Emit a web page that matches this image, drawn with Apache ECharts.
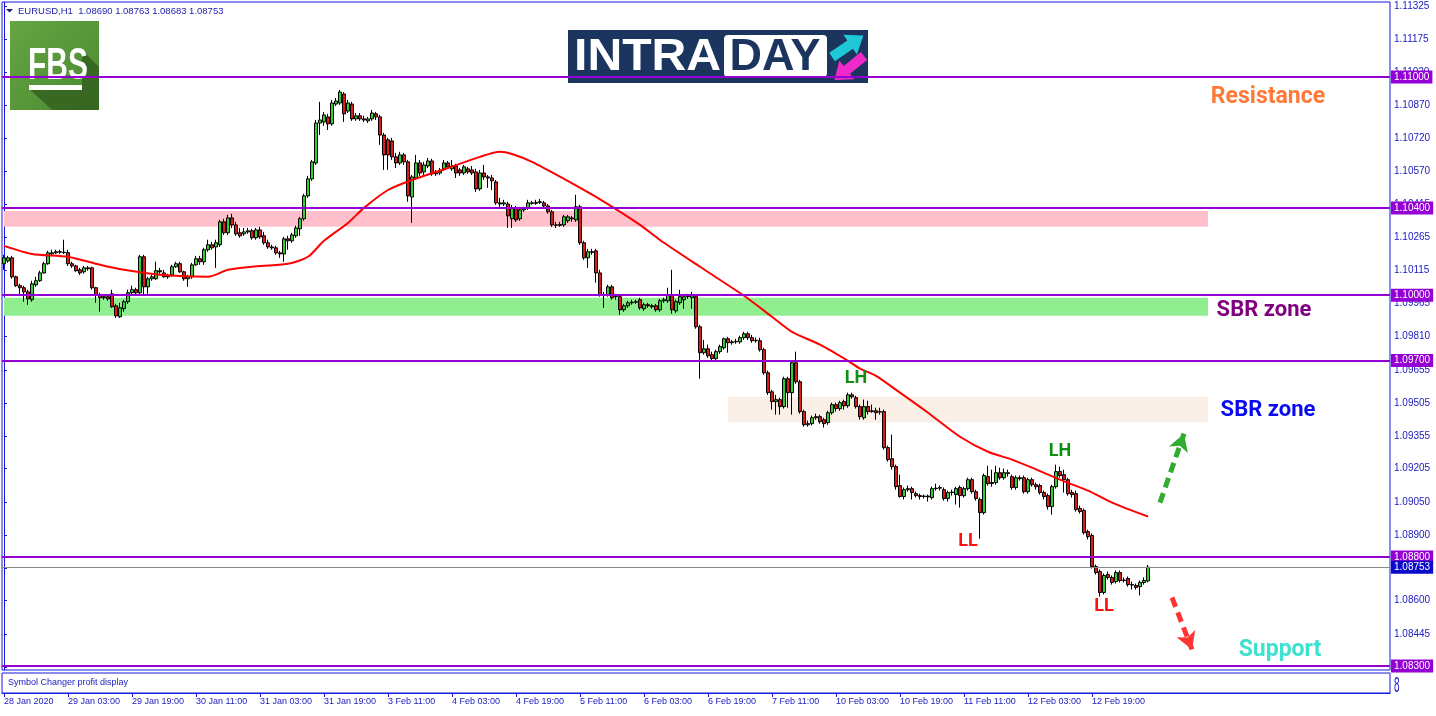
<!DOCTYPE html>
<html><head><meta charset="utf-8">
<script src="https://cdn.jsdelivr.net/npm/echarts@6/dist/echarts.min.js"></script>
<style>html,body{margin:0;padding:0;background:#fff;overflow:hidden}#c{width:1436px;height:716px}</style>
</head><body><div id="c"></div>
<script>
// ---------------- DATA ----------------
const symbolName = 'EURUSD,H1';
const xTickLabels = ['28 Jan 2020','29 Jan 03:00','29 Jan 19:00','30 Jan 11:00','31 Jan 03:00','31 Jan 19:00','3 Feb 11:00','4 Feb 03:00','4 Feb 19:00','5 Feb 11:00','6 Feb 03:00','6 Feb 19:00','7 Feb 11:00','10 Feb 03:00','10 Feb 19:00','11 Feb 11:00','12 Feb 03:00','12 Feb 19:00'];
const barsPerTick = 16;
const yTickValues = [1.11325,1.11175,1.11020,1.10870,1.10720,1.10570,1.10415,1.10265,1.10115,1.09965,1.09810,1.09655,1.09505,1.09355,1.09205,1.09050,1.08900,1.08750,1.08600,1.08445,1.08295];
// [open, close, low, high] per H1 bar
const candles = [
[1.10144,1.10171,1.10116,1.10185],[1.10157,1.10171,1.10148,1.10180],[1.10171,1.10084,1.10075,1.10180],[1.10084,1.10043,1.10038,1.10089],
[1.10043,1.10034,1.10002,1.10052],[1.10034,1.10015,1.09970,1.10043],[1.10015,1.09983,1.09956,1.10025],[1.09979,1.10052,1.09970,1.10066],
[1.10047,1.10066,1.10038,1.10084],[1.10066,1.10102,1.10061,1.10112],[1.10102,1.10144,1.10098,1.10153],[1.10144,1.10194,1.10139,1.10203],
[1.10189,1.10194,1.10180,1.10208],[1.10194,1.10199,1.10189,1.10208],[1.10199,1.10197,1.10189,1.10208],[1.10197,1.10195,1.10189,1.10254],
[1.10195,1.10144,1.10134,1.10208],[1.10144,1.10134,1.10125,1.10153],[1.10134,1.10112,1.10107,1.10139],[1.10116,1.10102,1.10093,1.10125],
[1.10107,1.10125,1.10098,1.10134],[1.10125,1.10121,1.10112,1.10134],[1.10125,1.10034,1.10025,1.10130],[1.10034,1.10002,1.09965,1.10038],
[1.10002,1.09988,1.09924,1.10011],[1.09988,1.09993,1.09979,1.10002],[1.09993,1.09983,1.09974,1.10002],[1.10006,1.09947,1.09942,1.10025],
[1.09951,1.09905,1.09896,1.09960],[1.09901,1.09942,1.09896,1.09965],[1.09938,1.09970,1.09924,1.09979],[1.09970,1.10011,1.09960,1.10025],
[1.10011,1.10025,1.10002,1.10043],[1.10025,1.10011,1.09997,1.10034],[1.10011,1.10176,1.09997,1.10185],[1.10176,1.10038,1.10002,1.10185],
[1.10038,1.10075,1.10006,1.10084],[1.10075,1.10084,1.10066,1.10093],[1.10075,1.10112,1.10070,1.10153],[1.10112,1.10107,1.10098,1.10125],
[1.10102,1.10084,1.10080,1.10116],[1.10084,1.10089,1.10075,1.10098],[1.10093,1.10130,1.10084,1.10139],[1.10130,1.10144,1.10125,1.10153],
[1.10144,1.10107,1.10102,1.10153],[1.10107,1.10075,1.10066,1.10112],[1.10075,1.10084,1.10038,1.10093],[1.10084,1.10139,1.10075,1.10148],
[1.10139,1.10167,1.10134,1.10180],[1.10167,1.10153,1.10139,1.10180],[1.10153,1.10208,1.10139,1.10217],[1.10208,1.10231,1.10199,1.10254],
[1.10231,1.10217,1.10208,1.10244],[1.10221,1.10240,1.10125,1.10254],[1.10231,1.10336,1.10221,1.10345],[1.10336,1.10286,1.10276,1.10350],
[1.10286,1.10354,1.10276,1.10368],[1.10354,1.10322,1.10308,1.10373],[1.10322,1.10281,1.10272,1.10336],[1.10286,1.10272,1.10263,1.10308],
[1.10281,1.10290,1.10272,1.10308],[1.10290,1.10295,1.10281,1.10308],[1.10295,1.10263,1.10254,1.10304],[1.10263,1.10299,1.10254,1.10308],
[1.10299,1.10267,1.10258,1.10313],[1.10272,1.10240,1.10231,1.10290],[1.10240,1.10221,1.10212,1.10254],[1.10221,1.10217,1.10208,1.10231],
[1.10217,1.10194,1.10185,1.10226],[1.10194,1.10189,1.10171,1.10203],[1.10189,1.10258,1.10153,1.10267],[1.10258,1.10249,1.10208,1.10272],
[1.10249,1.10276,1.10240,1.10286],[1.10272,1.10308,1.10263,1.10318],[1.10304,1.10350,1.10272,1.10359],[1.10350,1.10455,1.10341,1.10464],
[1.10455,1.10533,1.10446,1.10547],[1.10533,1.10611,1.10524,1.10620],[1.10606,1.10789,1.10597,1.10803],[1.10789,1.10803,1.10734,1.10886],
[1.10794,1.10826,1.10776,1.10840],[1.10817,1.10785,1.10757,1.10831],[1.10785,1.10881,1.10776,1.10895],[1.10876,1.10890,1.10867,1.10904],
[1.10881,1.10931,1.10872,1.10941],[1.10922,1.10831,1.10794,1.10931],[1.10844,1.10881,1.10835,1.10895],[1.10876,1.10808,1.10799,1.10886],
[1.10808,1.10822,1.10799,1.10835],[1.10822,1.10808,1.10799,1.10835],[1.10808,1.10803,1.10794,1.10822],[1.10799,1.10808,1.10789,1.10817],
[1.10808,1.10835,1.10799,1.10849],[1.10831,1.10817,1.10803,1.10840],[1.10817,1.10734,1.10689,1.10826],[1.10734,1.10643,1.10574,1.10744],
[1.10712,1.10643,1.10574,1.10721],[1.10707,1.10634,1.10620,1.10721],[1.10634,1.10606,1.10583,1.10652],[1.10606,1.10643,1.10597,1.10657],
[1.10643,1.10611,1.10597,1.10652],[1.10611,1.10455,1.10428,1.10620],[1.10450,1.10542,1.10331,1.10551],[1.10537,1.10606,1.10528,1.10643],
[1.10606,1.10560,1.10547,1.10620],[1.10565,1.10597,1.10551,1.10611],[1.10592,1.10615,1.10583,1.10629],[1.10615,1.10556,1.10547,1.10625],
[1.10556,1.10560,1.10547,1.10574],[1.10560,1.10570,1.10551,1.10583],[1.10579,1.10606,1.10570,1.10620],[1.10606,1.10588,1.10579,1.10615],
[1.10579,1.10592,1.10570,1.10620],[1.10592,1.10560,1.10537,1.10602],[1.10574,1.10560,1.10547,1.10583],[1.10560,1.10588,1.10551,1.10597],
[1.10579,1.10565,1.10556,1.10588],[1.10574,1.10560,1.10551,1.10592],[1.10565,1.10487,1.10473,1.10579],[1.10487,1.10560,1.10478,1.10574],
[1.10560,1.10542,1.10528,1.10597],[1.10542,1.10537,1.10492,1.10551],[1.10537,1.10524,1.10482,1.10551],[1.10519,1.10423,1.10414,1.10528],
[1.10423,1.10418,1.10405,1.10446],[1.10418,1.10423,1.10409,1.10437],[1.10418,1.10363,1.10308,1.10428],[1.10350,1.10400,1.10308,1.10414],
[1.10400,1.10345,1.10336,1.10409],[1.10350,1.10391,1.10341,1.10400],[1.10391,1.10396,1.10382,1.10405],[1.10400,1.10423,1.10391,1.10437],
[1.10423,1.10421,1.10414,1.10432],[1.10421,1.10425,1.10414,1.10437],[1.10425,1.10428,1.10418,1.10441],[1.10423,1.10409,1.10400,1.10432],
[1.10409,1.10382,1.10373,1.10418],[1.10382,1.10322,1.10313,1.10391],[1.10322,1.10320,1.10308,1.10336],[1.10320,1.10324,1.10313,1.10336],
[1.10322,1.10359,1.10313,1.10368],[1.10341,1.10359,1.10331,1.10368],[1.10354,1.10350,1.10336,1.10363],[1.10345,1.10405,1.10336,1.10460],
[1.10405,1.10240,1.10231,1.10414],[1.10240,1.10171,1.10162,1.10249],[1.10171,1.10199,1.10125,1.10212],[1.10199,1.10196,1.10185,1.10212],
[1.10203,1.10102,1.10057,1.10212],[1.10102,1.10002,1.09993,1.10116],[1.10002,1.10000,1.09942,1.10015],[1.10002,1.10038,1.09993,1.10047],
[1.10038,1.09988,1.09979,1.10047],[1.09993,1.09997,1.09979,1.10006],[1.09993,1.09933,1.09910,1.10002],[1.09933,1.09951,1.09924,1.09960],
[1.09951,1.09965,1.09942,1.09974],[1.09965,1.09968,1.09956,1.09979],[1.09968,1.09970,1.09960,1.09979],[1.09979,1.09942,1.09933,1.09988],
[1.09938,1.09956,1.09928,1.09965],[1.09956,1.09951,1.09942,1.09965],[1.09951,1.09947,1.09938,1.09960],[1.09951,1.09933,1.09924,1.09960],
[1.09933,1.09974,1.09924,1.09983],[1.09974,1.09979,1.09965,1.09988],[1.09974,1.10002,1.09965,1.10034],[1.10002,1.09933,1.09915,1.10116],
[1.09928,1.09970,1.09919,1.09979],[1.09965,1.09993,1.09956,1.10025],[1.09979,1.09993,1.09938,1.10002],[1.09993,1.09997,1.09983,1.10006],
[1.09988,1.09997,1.09938,1.10015],[1.09993,1.09855,1.09846,1.10002],[1.09855,1.09736,1.09617,1.09864],[1.09736,1.09754,1.09727,1.09795],
[1.09754,1.09722,1.09713,1.09773],[1.09727,1.09709,1.09695,1.09741],[1.09709,1.09741,1.09699,1.09750],[1.09741,1.09764,1.09731,1.09773],
[1.09759,1.09800,1.09750,1.09805],[1.09800,1.09782,1.09736,1.09809],[1.09782,1.09786,1.09773,1.09795],[1.09786,1.09788,1.09777,1.09800],
[1.09786,1.09805,1.09777,1.09814],[1.09805,1.09823,1.09795,1.09832],[1.09823,1.09805,1.09795,1.09832],[1.09805,1.09791,1.09782,1.09818],
[1.09791,1.09793,1.09782,1.09805],[1.09791,1.09750,1.09741,1.09805],[1.09750,1.09644,1.09635,1.09759],[1.09644,1.09553,1.09543,1.09654],
[1.09557,1.09512,1.09475,1.09566],[1.09512,1.09521,1.09452,1.09543],[1.09521,1.09489,1.09452,1.09530],[1.09489,1.09617,1.09480,1.09626],
[1.09617,1.09553,1.09484,1.09626],[1.09553,1.09690,1.09452,1.09699],[1.09690,1.09603,1.09594,1.09741],[1.09603,1.09466,1.09457,1.09612],
[1.09466,1.09406,1.09397,1.09475],[1.09406,1.09411,1.09397,1.09425],[1.09411,1.09438,1.09402,1.09448],[1.09438,1.09443,1.09429,1.09457],
[1.09443,1.09420,1.09411,1.09452],[1.09429,1.09411,1.09393,1.09438],[1.09416,1.09461,1.09406,1.09470],[1.09461,1.09498,1.09452,1.09507],
[1.09498,1.09480,1.09466,1.09507],[1.09480,1.09507,1.09470,1.09516],[1.09512,1.09493,1.09475,1.09521],[1.09493,1.09543,1.09484,1.09553],
[1.09543,1.09534,1.09525,1.09553],[1.09530,1.09489,1.09480,1.09539],[1.09489,1.09443,1.09429,1.09498],[1.09438,1.09489,1.09429,1.09521],
[1.09489,1.09466,1.09452,1.09516],[1.09466,1.09470,1.09461,1.09498],[1.09470,1.09461,1.09429,1.09484],[1.09466,1.09464,1.09452,1.09484],
[1.09466,1.09301,1.09292,1.09475],[1.09301,1.09246,1.09237,1.09310],[1.09250,1.09214,1.09200,1.09361],[1.09214,1.09122,1.09108,1.09223],
[1.09127,1.09077,1.09072,1.09177],[1.09077,1.09108,1.09063,1.09118],[1.09108,1.09113,1.09099,1.09127],[1.09113,1.09095,1.09063,1.09122],
[1.09090,1.09081,1.09072,1.09099],[1.09081,1.09077,1.09063,1.09090],[1.09077,1.09079,1.09068,1.09086],[1.09079,1.09075,1.09054,1.09086],
[1.09072,1.09113,1.09063,1.09122],[1.09113,1.09115,1.09104,1.09136],[1.09115,1.09118,1.09104,1.09127],[1.09108,1.09068,1.09058,1.09118],
[1.09068,1.09095,1.09054,1.09104],[1.09095,1.09097,1.09081,1.09108],[1.09086,1.09113,1.09040,1.09122],[1.09118,1.09081,1.09026,1.09127],
[1.09081,1.09113,1.09072,1.09122],[1.09113,1.09154,1.09104,1.09163],[1.09154,1.09099,1.09090,1.09163],[1.09099,1.09068,1.09058,1.09108],
[1.09063,1.09003,1.08884,1.09072],[1.09003,1.09173,1.08994,1.09182],[1.09168,1.09136,1.09127,1.09218],[1.09136,1.09141,1.09122,1.09200],
[1.09141,1.09186,1.09131,1.09218],[1.09186,1.09163,1.09154,1.09209],[1.09163,1.09186,1.09154,1.09205],[1.09186,1.09182,1.09168,1.09200],
[1.09168,1.09118,1.09108,1.09177],[1.09118,1.09163,1.09108,1.09173],[1.09163,1.09159,1.09150,1.09173],[1.09163,1.09099,1.09090,1.09173],
[1.09099,1.09154,1.09090,1.09163],[1.09154,1.09131,1.09122,1.09163],[1.09131,1.09122,1.09108,1.09141],[1.09127,1.09095,1.09086,1.09136],
[1.09095,1.09077,1.09063,1.09104],[1.09081,1.09031,1.09017,1.09090],[1.09031,1.09122,1.08994,1.09131],[1.09122,1.09191,1.09113,1.09223],
[1.09191,1.09173,1.09163,1.09214],[1.09177,1.09154,1.09095,1.09200],[1.09154,1.09090,1.09081,1.09163],[1.09095,1.09086,1.09072,1.09108],
[1.09090,1.09017,1.09008,1.09104],[1.09022,1.09008,1.08999,1.09035],[1.09013,1.08911,1.08902,1.09022],[1.08916,1.08893,1.08880,1.08925],
[1.08898,1.08756,1.08747,1.08907],[1.08756,1.08728,1.08719,1.08765],[1.08733,1.08637,1.08618,1.08742],[1.08637,1.08715,1.08628,1.08724],
[1.08719,1.08706,1.08696,1.08733],[1.08706,1.08683,1.08673,1.08715],[1.08687,1.08728,1.08678,1.08738],[1.08728,1.08692,1.08683,1.08738],
[1.08692,1.08694,1.08683,1.08706],[1.08701,1.08673,1.08664,1.08710],[1.08673,1.08671,1.08650,1.08687],[1.08669,1.08660,1.08650,1.08678],
[1.08664,1.08683,1.08623,1.08692],[1.08683,1.08692,1.08673,1.08706],[1.08690,1.08753,1.08683,1.08763]
];
// moving average: [bar index, value]
const maPoints = [[0,1.10226],[7,1.10189],[16,1.10176],[24,1.10139],[30,1.10116],[39,1.10093],[51,1.10084],[56,1.10116],[62,1.10130],[71,1.10144],[76,1.10176],[80,1.10249],[86,1.10331],[90,1.10400],[96,1.10482],[102,1.10528],[111,1.10583],[119,1.10634],[124,1.10657],[127,1.10647],[132,1.10611],[140,1.10533],[148,1.10450],[159,1.10322],[164,1.10253],[174,1.10130],[185,1.09997],[192,1.09901],[197,1.09832],[204,1.09773],[211,1.09699],[214,1.09663],[218,1.09630],[224,1.09553],[231,1.09461],[239,1.09351],[246,1.09282],[252,1.09246],[257,1.09209],[264,1.09154],[271,1.09104],[277,1.09049],[286,1.08985]];
const levelPrices = [1.11000,1.10400,1.10000,1.09700,1.08800,1.08300];
const lastPrice = 1.08753;
const pinkZone = [1.10313,1.10386];
const greenZone = [1.09905,1.09988];
const beigeZone = [1.09416,1.09534];
const zoneStartBars = [0,0,181];
const zoneEndBar = 301;
const annotationTexts = ['Resistance','SBR zone','SBR zone','Support','LH','LH','LL','LL'];
const annotationBars = [316,315,316,319,213,264,241,275];
const annotationPrices = [1.10908,1.09928,1.09470,1.08371,1.09617,1.09283,1.08870,1.08573];
const arrowUp = [[289,1.09049],[295,1.09365]];
const arrowDown = [[292,1.08614],[297,1.08376]];

// ---------------- LAYOUT / STYLE ----------------
const slots = 347;
const cats = Array.from({length: slots}, (_, i) => String(i));
const frameBlue = '#1818e0';
const textBlue = '#2020c0';
const purple = '#9400d3';
const annColors = ['#ff7a38','#800080','#0a0af0','#3ee0d0','#109010','#109010','#ff1010','#ff1010'];
const annSizes = [23,22,22,23,18,18,18,18];
const last = candles[candles.length-1];
const isTick = (idx) => idx % barsPerTick === 0 && idx / barsPerTick < xTickLabels.length;

const chart = echarts.init(document.getElementById('c'), null, {renderer: 'canvas'});
const zoneColors = ['#ffc0cb','#90ee90','#faefe6'];
const zones = [pinkZone, greenZone, beigeZone];

const option = {
  animation: false,
  backgroundColor: '#ffffff',
  grid: [
    {left: 2, top: 2, width: 1388, height: 668, show: true, borderColor: frameBlue, borderWidth: 1, backgroundColor: 'transparent'},
    {left: 2, top: 673, width: 1388, height: 20, show: true, borderColor: frameBlue, borderWidth: 1, backgroundColor: 'transparent'}
  ],
  xAxis: [
    {type: 'category', gridIndex: 0, data: cats, boundaryGap: true, axisLine: {show: false}, axisTick: {show: false}, axisLabel: {show: false}, splitLine: {show: false}},
    {type: 'category', gridIndex: 1, data: cats, boundaryGap: true,
      axisLine: {show: true, lineStyle: {color: frameBlue}},
      axisTick: {show: true, alignWithLabel: true, interval: (idx) => isTick(idx), length: 4, lineStyle: {color: frameBlue}},
      axisLabel: {show: true, interval: (idx) => isTick(idx), formatter: (v, idx) => isTick(idx) ? xTickLabels[idx / barsPerTick] : '',
        align: 'left', margin: 4, fontSize: 9, fontFamily: 'Liberation Sans', color: textBlue},
      splitLine: {show: false}},
    {type: 'value', gridIndex: 0, min: -0.5, max: slots - 0.5, show: false}
  ],
  yAxis: [
    {type: 'value', gridIndex: 0, position: 'right', min: 1.082816, max: 1.113438,
      axisLine: {show: true, lineStyle: {color: frameBlue}},
      axisTick: {show: true, length: 3, customValues: yTickValues, lineStyle: {color: frameBlue}},
      axisLabel: {show: true, customValues: yTickValues, formatter: (v) => v.toFixed(5), fontSize: 10, fontFamily: 'Liberation Sans', color: textBlue, margin: 4},
      splitLine: {show: false}},
    {type: 'value', gridIndex: 1, position: 'right', show: false}
  ],
  series: [
    { // zones (behind candles)
      type: 'line', xAxisIndex: 0, yAxisIndex: 0, data: [], z: 1, silent: true, clip: false,
      markArea: {silent: true, label: {show: false},
        data: zones.map((z, k) => [
          {xAxis: zoneStartBars[k], yAxis: z[0], itemStyle: {color: zoneColors[k], opacity: 1}},
          {xAxis: zoneEndBar, yAxis: z[1]}
        ])}
    },
    {
      type: 'candlestick', name: 'EURUSD', xAxisIndex: 0, yAxisIndex: 0, data: candles, z: 3,
      barWidth: 3, silent: true,
      itemStyle: {color: '#2ed12e', color0: '#e01818', borderColor: '#000', borderColor0: '#000', borderColorDoji: '#000', borderWidth: 1}
    },
    {
      type: 'line', name: 'MA', xAxisIndex: 2, yAxisIndex: 0, data: maPoints, z: 4, silent: true,
      showSymbol: false, symbol: 'none', smooth: 0.25, lineStyle: {color: '#ff0000', width: 2}
    },
    { // horizontal levels + price line
      type: 'line', xAxisIndex: 0, yAxisIndex: 0, data: [], z: 5, silent: true, clip: false,
      markLine: {silent: true, symbol: ['none', 'none'], animation: false, precision: 5,
        label: {show: true, position: 'end', distance: 1, formatter: (p) => Number(p.value).toFixed(5),
          color: '#fff', backgroundColor: purple, padding: [2, 3, 1, 3], fontSize: 10, fontFamily: 'Liberation Sans'},
        lineStyle: {color: purple, width: 2, type: 'solid'},
        data: levelPrices.map(v => ({yAxis: v})).concat([
          {yAxis: lastPrice, lineStyle: {color: '#8a8a8a', width: 1, type: 'solid'},
            label: {backgroundColor: '#0a0ac8', color: '#fff'}}
        ])}
    },
    { // dashed arrows
      type: 'line', xAxisIndex: 0, yAxisIndex: 0, data: [], z: 6, silent: true, clip: false,
      markLine: {silent: true, symbol: ['none', 'arrow'], symbolSize: [15, 17], label: {show: false}, precision: 5,
        data: [
          [{coord: arrowUp[0], lineStyle: {color: '#30ac30', width: 5, type: [10, 6]}, itemStyle: {color: '#30ac30'}}, {coord: arrowUp[1]}],
          [{coord: arrowDown[0], lineStyle: {color: '#ff3535', width: 5, type: [10, 6]}, itemStyle: {color: '#ff3535'}}, {coord: arrowDown[1]}]
        ]}
    },
    { // text annotations
      type: 'scatter', xAxisIndex: 0, yAxisIndex: 0, z: 7, silent: true, clip: false,
      symbolSize: 1, itemStyle: {color: 'rgba(0,0,0,0)', opacity: 1},
      data: annotationTexts.map((t, k) => ({
        value: [annotationBars[k], annotationPrices[k]],
        label: {show: true, position: 'inside', formatter: t, color: annColors[k], fontSize: annSizes[k],
          fontWeight: 'bold', fontFamily: 'Roboto', opacity: 1}
      }))
    }
  ],
  graphic: [
    {type: 'group', z: 100, children: [
      // header
      {type: 'polygon', shape: {points: [[6, 9], [13, 9], [9.5, 12.5]]}, style: {fill: '#1a1a8c'}},
      {type: 'text', x: 18, y: 11, style: {text: symbolName + '  ' + [last[0], last[3], last[2], last[1]].map(v => v.toFixed(5)).join(' '),
        font: '9.5px "Liberation Sans"', fill: '#2222b0', verticalAlign: 'middle'}},
      // sub-window caption
      {type: 'text', x: 8, y: 683, style: {text: 'Symbol Changer profit display', font: '9px "Liberation Sans"', fill: textBlue, verticalAlign: 'middle'}},
      {type: 'text', x: 1394, y: 686, scaleY: 2.2, style: {text: '8', font: '10px "Liberation Sans"', fill: textBlue, verticalAlign: 'middle'}},
      // FBS logo
      {type: 'rect', shape: {x: 10, y: 21, width: 89, height: 89},
        style: {fill: new echarts.graphic.LinearGradient(0, 0, 1, 1, [{offset: 0, color: '#66a544'}, {offset: 1, color: '#4a8a2f'}])}},
      {type: 'polygon', shape: {points: [[82, 50], [99, 67], [99, 110], [52, 110], [29, 89], [82, 89]]}, style: {fill: '#34621f', opacity: 0.85}},
      {type: 'text', x: 28, y: 67, scaleX: 0.68, style: {text: 'FBS', font: 'bold 44px "Liberation Sans"', fill: '#ffffff', verticalAlign: 'middle'}},
      {type: 'rect', shape: {x: 29, y: 85, width: 53, height: 5}, style: {fill: '#ffffff'}},
      // INTRADAY logo
      {type: 'rect', shape: {x: 568, y: 30, width: 300, height: 53}, style: {fill: '#1b355e'}},
      {type: 'text', x: 574, y: 58, scaleX: 1.07, style: {text: 'INTRA', font: 'bold 45px "Liberation Sans"', fill: '#ffffff', verticalAlign: 'middle'}},
      {type: 'rect', shape: {x: 724, y: 35, width: 103, height: 42, r: 4}, style: {fill: '#ffffff'}},
      {type: 'text', x: 775, y: 58, style: {text: 'DAY', font: 'bold 45px "Liberation Sans"', fill: '#1b355e', align: 'center', verticalAlign: 'middle'}},
      {type: 'group', x: 832, y: 57, rotation: 0.6, children: [
        {type: 'polygon', shape: {points: [[0, -5], [22, -5], [22, -12], [38, 0], [22, 12], [22, 5], [0, 5]]}, style: {fill: '#1fc8d6'}}]},
      {type: 'group', x: 864, y: 56, rotation: Math.PI + 0.68, children: [
        {type: 'polygon', shape: {points: [[0, -5], [22, -5], [22, -12], [38, 0], [22, 12], [22, 5], [0, 5]]}, style: {fill: '#f02ac8'}}]}
    ]}
  ]
};
chart.setOption(option);
</script>
</body></html>
